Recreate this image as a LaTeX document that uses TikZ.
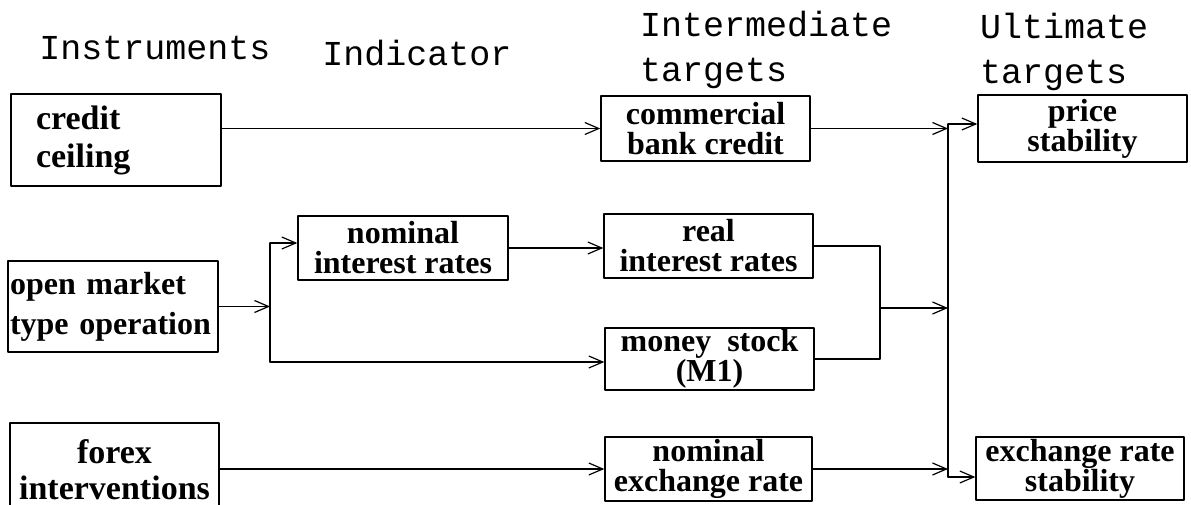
\documentclass[tikz,border=0pt]{standalone}
\usepackage{fontspec}
\setmainfont{Liberation Serif}
\newfontfamily\typew{Liberation Mono}
\usetikzlibrary{arrows.meta}
\begin{document}
\begin{tikzpicture}[x=1pt,y=-1pt,>={Straight Barb[length=14pt,width=12pt]},line join=round,line cap=round,
	box/.style={draw,line width=1.4pt,minimum width=209pt,minimum height=64pt,inner sep=0pt,align=center,font={\fontsize{32}{30}\selectfont\bfseries}},
	head/.style={font={\typew\fontsize{35}{45}\selectfont},align=left,inner sep=0pt},
	link/.style={line width=1.2pt}]
	\useasboundingbox (0,0) rectangle (1191,505);
	% column heads
	\node[head] (hinst) at (155,48) {Instruments};
	\node[head] (hind) at (417,53) {Indicator};
	\node[head,anchor=west] (hint) at (640,50) {Intermediate\\targets};
	\node[head,anchor=west] (hult) at (980,52) {Ultimate\\targets};
	% instruments
	\node[box,minimum height=92pt,text width=160pt,inner xsep=25pt,align=left,font={\fontsize{34}{38}\selectfont\bfseries}] (cc) at (116,140) {credit\\ceiling};
	\node[box,minimum height=91pt,text width=206pt,inner xsep=2pt,align=left,font={\fontsize{32}{40}\selectfont\bfseries}] (omt) at (113,306.5) {open market\\type operation};
	\node[box,minimum height=94pt,font={\fontsize{34}{36}\selectfont\bfseries}] (fx) at (114.5,470) {forex\\interventions};
	% indicator
	\node[box,minimum width=210pt] (nir) at (403,248) {nominal\\interest rates};
	% intermediate targets
	\node[box,minimum height=65pt] (cbc) at (705.5,128.5) {commercial\\bank credit};
	\node[box] (rir) at (708.5,246) {real\\interest rates};
	\node[box,minimum height=62pt,font={\fontsize{32}{27}\selectfont\bfseries}] (ms) at (709.5,359) {money~ stock\\(M1)};
	\node[box,minimum width=207pt] (ner) at (708.5,469) {nominal\\exchange rate};
	% ultimate targets
	\node[box,minimum height=67pt] (ps) at (1082.5,128.5) {price\\stability};
	\node[box,minimum width=208pt,minimum height=63pt] (ers) at (1080,468.5) {exchange rate\\stability};
	% junctions
	\coordinate (brt) at (270,243);
	\coordinate (brb) at (270,362);
	\coordinate (mj) at (880,308);
	\coordinate (bt) at (948,124);
	\coordinate (bb) at (948,477);
	% connectors
	\draw[link,->] (cc.east |- cbc.west) -- (cbc.west);
	\draw[link,->] (omt.east) -- (omt.east -| brt);
	\draw[link] (brt) -- (brb);
	\draw[link,->] (brt) -- (brt -| nir.west);
	\draw[link,->] (brb) -- (brb -| ms.west);
	\draw[link,->] (nir.east) -- (nir.east -| rir.west);
	\draw[link,->] (fx.east |- ner.west) -- (ner.west);
	\draw[link] (rir.east) -| (mj) |- (ms.east);
	\draw[link,->] (mj) -- (mj -| bt);
	\draw[link,->] (cbc.east) -- (cbc.east -| bt);
	\draw[link,->] (ner.east) -- (ner.east -| bt);
	\draw[link] (bt) -- (bb);
	\draw[link,->] (bt) -- (bt -| ps.west);
	\draw[link,->] (bb) -- (bb -| ers.west);
\end{tikzpicture}
\end{document}
